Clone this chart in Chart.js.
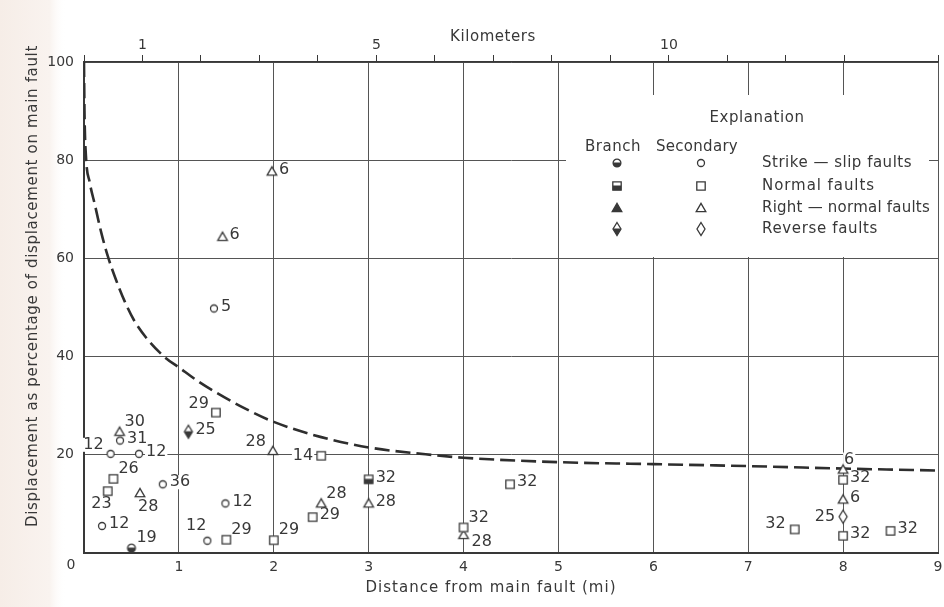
<!DOCTYPE html>
<html>
<head>
<meta charset="utf-8">
<script src="https://cdn.jsdelivr.net/npm/chart.js@4"></script>
<style>
  html, body { margin: 0; padding: 0; background: #fff; }
</style>
</head>
<body>
<canvas id="myChart" width="944" height="607"></canvas>
<script>
    // dashed curve (distance in mi, displacement in %)
    const curveMi  = [0, 0.005, 0.02, 0.06, 0.115, 0.18, 0.25, 0.34, 0.43, 0.53, 0.67, 0.85, 1.0, 1.2, 1.4, 1.7, 2.0, 2.5, 3.0, 3.6, 4.0, 5.0, 6.0, 7.0, 8.0, 9.0]
    const curvePct = [100, 90, 81, 75.5, 70.9, 65.4, 60.5, 55.5, 51.2, 47.3, 43.5, 39.9, 37.8, 35.0, 32.6, 29.4, 26.7, 23.6, 21.5, 20.1, 19.4, 18.5, 18.1, 17.7, 17.2, 16.8]

    // secondary faults
    const ssSecMi  = [0.28, 0.38, 0.58, 0.19, 0.83, 1.30, 1.49, 1.37]
    const ssSecPct = [20.2, 22.9, 20.2, 5.5, 14.0, 2.5, 10.1, 49.8]
    const ssSecNo  = ['12', '31', '12', '12', '36', '12', '12', '5']

    const nSecMi  = [0.31, 0.25, 1.39, 1.50, 2.0, 2.5, 2.41, 4.0, 4.49, 7.49, 8.0, 8.0, 8.5]
    const nSecPct = [15.1, 12.6, 28.6, 2.7, 2.6, 19.8, 7.3, 5.2, 14.0, 4.8, 14.9, 3.5, 4.5]
    const nSecNo  = ['26', '23', '29', '29', '29', '14', '29', '32', '32', '32', '32', '32', '32']

    const rnSecMi  = [0.375, 0.59, 1.98, 1.46, 1.99, 2.5, 3.0, 4.0, 8.0, 8.0]
    const rnSecPct = [24.7, 12.2, 77.7, 64.4, 20.8, 10.1, 10.1, 3.7, 17.0, 10.9]
    const rnSecNo  = ['30', '28', '6', '6', '28', '28', '28', '28', '6', '6']

    const rvSecMi  = [8.0]
    const rvSecPct = [7.4]
    const rvSecNo  = ['25']

    // branch faults
    const ssBrMi  = [0.5]
    const ssBrPct = [1.0]
    const ssBrNo  = ['19']

    const nBrMi  = [3.0]
    const nBrPct = [15.0]
    const nBrNo  = ['32']

    const rvBrMi  = [1.1]
    const rvBrPct = [24.7]
    const rvBrNo  = ['25']

    // tick labels
    const kmLabels = [1, 5, 10]
    const mileTicks = [1, 2, 3, 4, 5, 6, 7, 8, 9]

    // where each number sits next to its mark (style only)
    const ssSecSide = ['ul', 'r', 'r', 'r', 'r', 'u', 'r', 'r']
    const nSecSide  = ['ur', 'dl', 'ul', 'ur', 'ur', 'l', 'r', 'ur', 'r', 'lu', 'r', 'r', 'r']
    const rnSecSide = ['ur', 'd', 'r', 'r', 'ul', 'ur', 'r', 'dr', 't', 'r']
    const labelOffset = {
        r: [7, -2, 'left'], l: [-8, 0, 'right'], ur: [5, -10, 'left'], ul: [-7, -9, 'right'],
        dr: [8, 7, 'left'], dl: [4, 13, 'right'], d: [-2, 14, 'left'], u: [-1, -15, 'right'],
        t: [1, -10, 'left'], lu: [-9, -6, 'right']
    }

    const ink = '#383838'
    const gridInk = '#555555'
    const font = '"DejaVu Sans", sans-serif'

    function marker(shape, branch) {
        const c = document.createElement('canvas')
        c.width = 18
        c.height = 18
        const g = c.getContext('2d')
        g.translate(9, 9)
        g.lineWidth = 1.3
        g.strokeStyle = ink
        g.fillStyle = '#fff'
        g.beginPath()
        if (shape === 'circle') g.arc(0, 0, branch ? 3.9 : 3.5, 0, Math.PI * 2)
        if (shape === 'square') g.rect(-4.2, -4.2, 8.4, 8.4)
        if (shape === 'triangle') { g.moveTo(0, -4.6); g.lineTo(4.8, 3.7); g.lineTo(-4.8, 3.7); g.closePath() }
        if (shape === 'diamond') { g.moveTo(0, -6.5); g.lineTo(4, 0); g.lineTo(0, 6.5); g.lineTo(-4, 0); g.closePath() }
        g.fill()
        g.stroke()
        if (branch) {
            g.save()
            g.clip()
            g.fillStyle = ink
            if (shape === 'triangle') g.fillRect(-7, -7, 14, 14)
            else g.fillRect(-8, -0.5, 16, 8)
            g.restore()
        }
        return c
    }

    const mk = {
        ssSec: marker('circle', false), nSec: marker('square', false),
        rnSec: marker('triangle', false), rvSec: marker('diamond', false),
        ssBr: marker('circle', true), nBr: marker('square', true),
        rnBr: marker('triangle', true), rvBr: marker('diamond', true)
    }

    const pts = (mi, pct) => mi.map((x, i) => ({ x: x, y: pct[i] }))
    const sameSide = (arr, s) => arr.map(() => s)

    function spacedText(ctx, text, x, y, width, size, angle) {
        ctx.save()
        ctx.font = size + 'px ' + font
        ctx.letterSpacing = '0px'
        const w0 = ctx.measureText(text).width
        ctx.letterSpacing = ((width - w0) / text.length) + 'px'
        ctx.translate(x, y)
        ctx.rotate(angle || 0)
        ctx.textAlign = 'left'
        ctx.textBaseline = 'middle'
        ctx.fillStyle = ink
        ctx.fillText(text, -width / 2, 0)
        ctx.restore()
    }

    function labelSpots(chart, fn) {
        chart.data.datasets.forEach((ds, i) => {
            if (!ds.nums) return
            chart.getDatasetMeta(i).data.forEach((el, j) => {
                const o = labelOffset[ds.sides[j]]
                fn(ds.nums[j], el.x + o[0], el.y + o[1], o[2])
            })
        })
    }

    // paper, label backgrounds and the explanation box
    const paper = {
        id: 'paper',
        beforeDraw(chart) {
            const ctx = chart.ctx
            ctx.save()
            ctx.fillStyle = '#ffffff'
            ctx.fillRect(0, 0, chart.width, chart.height)
            const grad = ctx.createLinearGradient(0, 0, 66, 0)
            grad.addColorStop(0, '#f6ede7')
            grad.addColorStop(0.75, '#f9f3ef')
            grad.addColorStop(1, 'rgba(255,255,255,0)')
            ctx.fillStyle = grad
            ctx.fillRect(0, 0, 66, chart.height)
            ctx.restore()
        },
        beforeDatasetsDraw(chart) {
            const ctx = chart.ctx
            ctx.save()
            ctx.fillStyle = '#ffffff'
            ctx.font = '16px ' + font
            labelSpots(chart, (t, x, y, align) => {
                const w = ctx.measureText(t).width
                const left = align === 'left' ? x : x - w
                ctx.fillRect(left - 1, y - 7, w + 2, 14)
            })
            // explanation box
            ctx.fillRect(566, 95, 363, 162)
            const rows = [['ssBr', 'ssSec', 'Strike \u2014 slip faults', 163, 150],
                          ['nBr', 'nSec', 'Normal faults', 186, 113],
                          ['rnBr', 'rnSec', 'Right \u2014 normal faults', 208, 168],
                          ['rvBr', 'rvSec', 'Reverse faults', 229, 116]]
            spacedText(ctx, 'Explanation', 757, 118, 95, 15)
            spacedText(ctx, 'Branch', 613, 147, 56, 15)
            spacedText(ctx, 'Secondary', 697, 147, 82, 15)
            rows.forEach(r => {
                ctx.drawImage(mk[r[0]], 617 - 9, r[3] - 9)
                ctx.drawImage(mk[r[1]], 701 - 9, r[3] - 9)
                spacedText(ctx, r[2], 762 + r[4] / 2, r[3], r[4], 15)
            })
            ctx.restore()
        },
        afterDatasetsDraw(chart) {
            const ctx = chart.ctx
            ctx.save()
            ctx.fillStyle = ink
            ctx.font = '16px ' + font
            ctx.textBaseline = 'middle'
            labelSpots(chart, (t, x, y, align) => {
                ctx.textAlign = align
                ctx.fillText(t, x, y)
            })
            ctx.restore()
            spacedText(ctx, 'Distance from main fault (mi)', 491, 588, 251, 15)
            spacedText(ctx, 'Kilometers', 493, 37, 86, 15)
            spacedText(ctx, 'Displacement as percentage of displacement on main fault', 33, 286, 482, 15, -Math.PI / 2)
            ctx.save()
            ctx.font = '14px ' + font
            ctx.fillStyle = ink
            ctx.textAlign = 'center'
            ctx.textBaseline = 'middle'
            ctx.fillText('0', 71, 565)
            ctx.restore()
        }
    }

    const config = {
        type: 'scatter',
        data: {
            datasets: [
                { label: 'curve', type: 'line', data: pts(curveMi, curvePct), showLine: true, fill: false,
                  borderColor: '#2e2e2e', borderWidth: 2.6, borderDash: [15, 6], pointRadius: 0,
                  cubicInterpolationMode: 'monotone', order: 5 },
                { label: 'Strike-slip, secondary', data: pts(ssSecMi, ssSecPct), pointStyle: mk.ssSec, pointRadius: 5, nums: ssSecNo, sides: ssSecSide },
                { label: 'Normal, secondary', data: pts(nSecMi, nSecPct), pointStyle: mk.nSec, pointRadius: 5, nums: nSecNo, sides: nSecSide },
                { label: 'Right-normal, secondary', data: pts(rnSecMi, rnSecPct), pointStyle: mk.rnSec, pointRadius: 5, nums: rnSecNo, sides: rnSecSide },
                { label: 'Reverse, secondary', data: pts(rvSecMi, rvSecPct), pointStyle: mk.rvSec, pointRadius: 5, nums: rvSecNo, sides: sameSide(rvSecNo, 'l') },
                { label: 'Strike-slip, branch', data: pts(ssBrMi, ssBrPct), pointStyle: mk.ssBr, pointRadius: 5, nums: ssBrNo, sides: sameSide(ssBrNo, 'ur') },
                { label: 'Normal, branch', data: pts(nBrMi, nBrPct), pointStyle: mk.nBr, pointRadius: 5, nums: nBrNo, sides: sameSide(nBrNo, 'r') },
                { label: 'Reverse, branch', data: pts(rvBrMi, rvBrPct), pointStyle: mk.rvBr, pointRadius: 5, nums: rvBrNo, sides: sameSide(rvBrNo, 'r') }
            ]
        },
        options: {
            responsive: false,
            animation: false,
            layout: { padding: { left: 0, right: 1, top: 0, bottom: 0 } },
            plugins: { legend: { display: false }, tooltip: { enabled: false } },
            scales: {
                x: {
                    type: 'linear', position: 'bottom', min: 0, max: 9,
                    afterFit: s => { s.height = 54; s.paddingLeft = 0; s.paddingRight = 0 },
                    grid: { color: gridInk, lineWidth: 1, drawTicks: false },
                    border: { color: ink, width: 2 },
                    afterBuildTicks: s => { s.ticks = [0].concat(mileTicks).map(v => ({ value: v })) },
                    ticks: { padding: 6, color: ink, font: { family: font, size: 14 }, maxRotation: 0, autoSkip: false,
                             callback: v => v === 0 ? '' : String(v) }
                },
                x2: {
                    type: 'linear', position: 'top', min: 0, max: 14.6,
                    afterFit: s => { s.height = 62; s.paddingLeft = 0; s.paddingRight = 0 },
                    grid: { drawOnChartArea: false, drawTicks: true, tickLength: 7, color: ink, tickColor: ink, tickWidth: 1 },
                    border: { color: ink, width: 1.6 },
                    ticks: { stepSize: 1, padding: 1, color: ink, font: { family: font, size: 14 }, maxRotation: 0, autoSkip: false,
                             callback: v => kmLabels.includes(v) ? String(v) : '' }
                },
                y: {
                    min: 0, max: 100,
                    afterFit: s => { s.width = 84 },
                    grid: { color: gridInk, lineWidth: 1, drawTicks: false },
                    border: { color: ink, width: 2 },
                    ticks: { stepSize: 20, padding: 10, color: ink, font: { family: font, size: 14 },
                             callback: v => v === 0 ? '' : String(v) }
                }
            }
        },
        plugins: [paper]
    }

    const myChart = new Chart(document.getElementById('myChart'), config)
</script>
</body>
</html>
